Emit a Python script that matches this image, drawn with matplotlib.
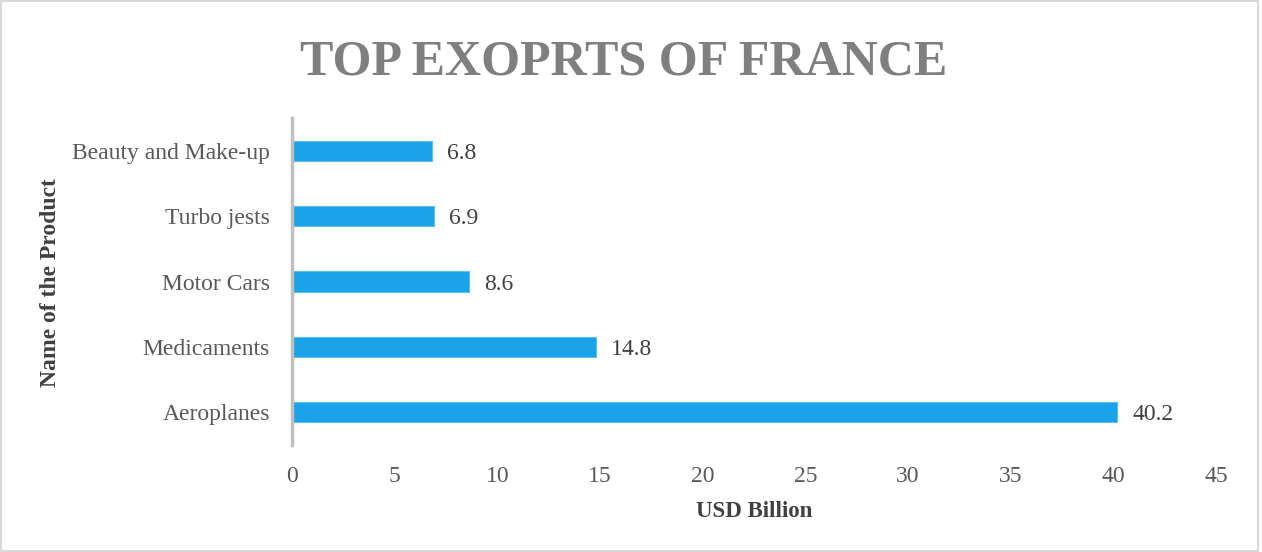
import matplotlib
matplotlib.use("Agg")
import matplotlib.pyplot as plt
from matplotlib.patches import Rectangle

categories = ["Aeroplanes", "Medicaments", "Motor Cars", "Turbo jests", "Beauty and Make-up"]
values = [40.2, 14.8, 8.6, 6.9, 6.8]
xticks = [0, 5, 10, 15, 20, 25, 30, 35, 40, 45]

plt.rcParams['font.family'] = ['Liberation Serif', 'DejaVu Serif']

fig = plt.figure(figsize=(12.62, 5.52), dpi=100)
ax = fig.add_axes([0.2314, 0.1938, 0.7322, 0.5924])

bars = ax.barh(range(len(categories)), values, height=0.31, color="#1AA3E8",
               edgecolor="#5CBDF0", linewidth=0.8)
for i, v in enumerate(values):
    ax.annotate(f"{v}", (v, i), xytext=(11, 0), textcoords="offset points",
                va="center_baseline", ha="left", fontsize=17, color="#404040")

ax.set_xlim(0, 45)
ax.set_ylim(-0.5, len(categories) - 0.5)
ax.set_xticks(xticks)
ax.set_xticklabels([str(t) for t in xticks])
ax.set_yticks(range(len(categories)))
ax.set_yticklabels(categories)
ax.tick_params(axis='x', length=0, pad=15, labelsize=17, labelcolor="#595959")
ax.tick_params(axis='y', length=0, pad=16, labelsize=17, labelcolor="#595959")
for lbl in ax.get_yticklabels():
    lbl.set_verticalalignment("center_baseline")

for s in ["top", "right", "bottom"]:
    ax.spines[s].set_visible(False)
ax.spines["left"].set_color("#BFBFBF")
ax.spines["left"].set_linewidth(2.5)

ax.set_xlabel("USD Billion", fontsize=16.5, fontweight="bold", color="#404040", labelpad=10)
fig.text(0.04, 0.488, "Name of the Product", rotation=90, fontsize=17, fontweight="bold",
         color="#404040", ha="center", va="center")

fig.text(0.494, 0.886, "TOP EXOPRTS OF FRANCE", fontsize=36, fontweight="bold",
         color="#7F7F7F", ha="center", va="center")

fig.patches.append(Rectangle((0.001, 0.002), 0.996, 0.996, transform=fig.transFigure,
                             fill=False, edgecolor="#D9D9D9", linewidth=1.5))

fig.savefig("out.png", dpi=100)
